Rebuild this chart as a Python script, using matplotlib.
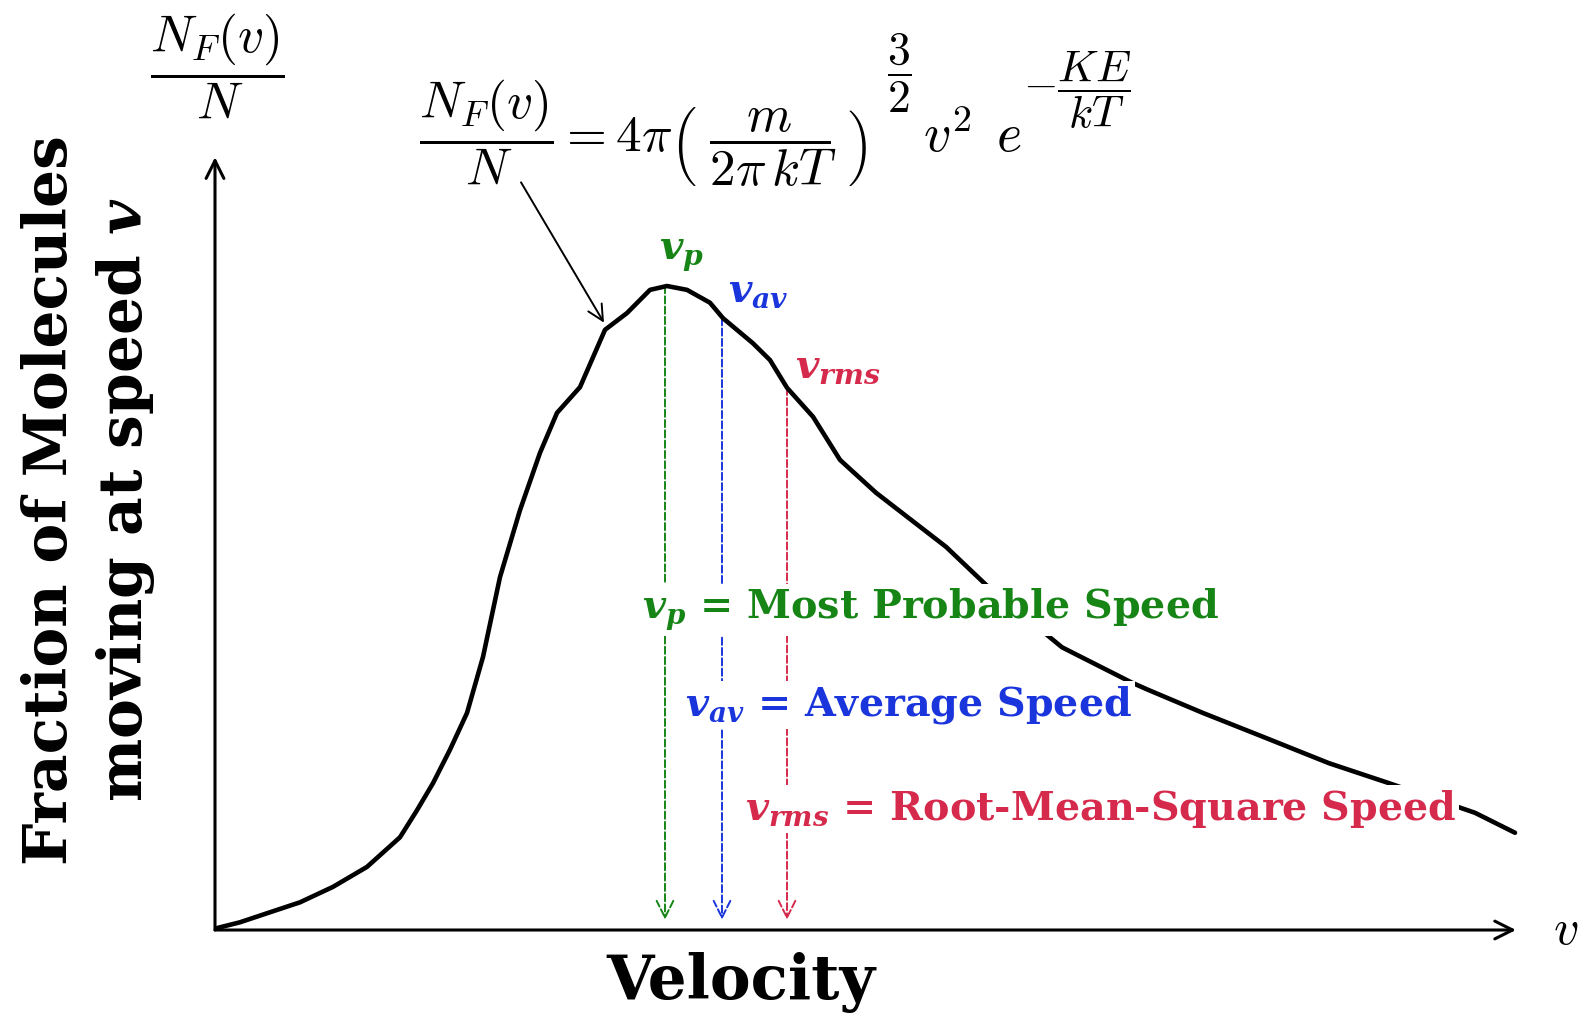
import numpy as np
import matplotlib
matplotlib.use("Agg")
import matplotlib.pyplot as plt

# Maxwell-Boltzmann speed distribution (schematic)
velocity = [0.02, 0.25, 0.52, 0.85, 1.18, 1.52, 1.85, 2.02, 2.18, 2.35, 2.52,
            2.68, 2.85, 3.05, 3.25, 3.42, 3.65, 3.90, 4.12, 4.35, 4.52, 4.72,
            4.95, 5.08, 5.38, 5.55, 5.72, 5.98, 6.25, 6.61, 6.96, 7.31, 7.71,
            8.47, 9.17, 9.33, 9.88, 10.48, 11.14, 11.74, 12.60, 13.00]
fraction = [0.003, 0.012, 0.026, 0.043, 0.067, 0.098, 0.144, 0.186, 0.228,
            0.280, 0.337, 0.424, 0.548, 0.652, 0.741, 0.803, 0.843, 0.932,
            0.958, 0.994, 1.000, 0.994, 0.974, 0.950, 0.911, 0.885, 0.842,
            0.797, 0.730, 0.679, 0.637, 0.595, 0.536, 0.439, 0.384, 0.373,
            0.337, 0.300, 0.259, 0.228, 0.182, 0.151]

speed_names = ["p", "av", "rms"]
speed_values = [4.50, 5.07, 5.72]
speed_tops = [1.000, 0.950, 0.842]
speed_colors = ["#168516", "#1a35dc", "#d62a4c"]
speed_texts = ["Most Probable Speed", "Average Speed", "Root-Mean-Square Speed"]

plt.rcParams["mathtext.fontset"] = "cm"
plt.rcParams["font.family"] = "DejaVu Serif"

fig = plt.figure(figsize=(15.85, 10.23), dpi=100)
ax = fig.add_axes([0, 0, 1, 1])
ax.set_xlim(-2.15, 13.70)
ax.set_ylim(-0.1444, 1.4441)
ax.axis("off")

# axes with arrows
ax.annotate("", xy=(13.01, 0), xytext=(0, 0),
            arrowprops=dict(arrowstyle="->", lw=2.2, color="black",
                            mutation_scale=32, shrinkA=0, shrinkB=0))
ax.annotate("", xy=(0, 1.200), xytext=(0, 0),
            arrowprops=dict(arrowstyle="->", lw=2.2, color="black",
                            mutation_scale=32, shrinkA=0, shrinkB=0))

# curve
ax.plot(velocity, fraction, color="black", lw=3.3, solid_capstyle="round",
        solid_joinstyle="round", zorder=2)

# dashed lines for vp, vav, vrms
for v, top, c in zip(speed_values, speed_tops, speed_colors):
    ax.annotate("", xy=(v, 0.016), xytext=(v, top),
                arrowprops=dict(arrowstyle="->", lw=1.4, color=c, linestyle="--",
                                mutation_scale=30, shrinkA=0, shrinkB=0), zorder=1)

# labels above the curve
label_x = [4.67, 5.43, 6.23]
label_y = [1.048, 0.991, 0.873]
for name, c, lx, ly in zip(speed_names, speed_colors, label_x, label_y):
    ax.text(lx, ly, r"$\mathbfit{v}_{\mathbfit{%s}}$" % name, color=c, fontsize=29,
            ha="center", va="center", math_fontfamily="dejavuserif")

# legend-like texts (white box hides the lines behind them)
legend_x = [4.27, 4.70, 5.30]
legend_y = [0.497, 0.349, 0.188]
for name, c, txt, lx, ly in zip(speed_names, speed_colors, speed_texts, legend_x, legend_y):
    ax.text(lx, ly, r"$\mathbfit{v}_{\mathbfit{%s}}$" % name + " = " + txt, color=c,
            fontsize=28.5, fontweight="bold", ha="left", va="center", zorder=3,
            math_fontfamily="dejavuserif",
            bbox=dict(facecolor="white", edgecolor="none", pad=2))

# formula (exponents drawn as separate pieces so they can be larger)
ax.text(2.04, 1.208,
        r"$\dfrac{N_F(v)}{N} = 4\pi\left(\;\dfrac{m}{2\pi\,kT}\;\right)$",
        fontsize=37, ha="left", va="baseline")
ax.text(6.84, 1.331, r"$\dfrac{3}{2}$", fontsize=33, ha="center", va="center")
ax.text(7.08, 1.208, r"$v^2\;\, e$", fontsize=39, ha="left", va="baseline")
ax.text(8.08, 1.305, r"$-\dfrac{KE}{kT}$", fontsize=32, ha="left", va="center")
ax.annotate("", xy=(3.89, 0.943), xytext=(3.06, 1.161),
            arrowprops=dict(arrowstyle="->", lw=1.4, color="black",
                            mutation_scale=28, shrinkA=0, shrinkB=0))

# axis labels
ax.text(0.02, 1.342, r"$\dfrac{N_F(v)}{N}$", fontsize=37, ha="center", va="center")
ax.text(13.38, 0, r"$v$", fontsize=36, ha="left", va="center")
ax.text(5.26, -0.082, "Velocity", fontsize=44, fontweight="bold",
        ha="center", va="center")
ax.text(-1.26, 0.668, "Fraction of Molecules\nmoving at speed $\\mathbfit{v}$",
        fontsize=43, fontweight="bold", rotation=90, ha="center", va="center",
        linespacing=1.3, math_fontfamily="dejavuserif")

plt.savefig("out.png", dpi=100)
plt.close()
